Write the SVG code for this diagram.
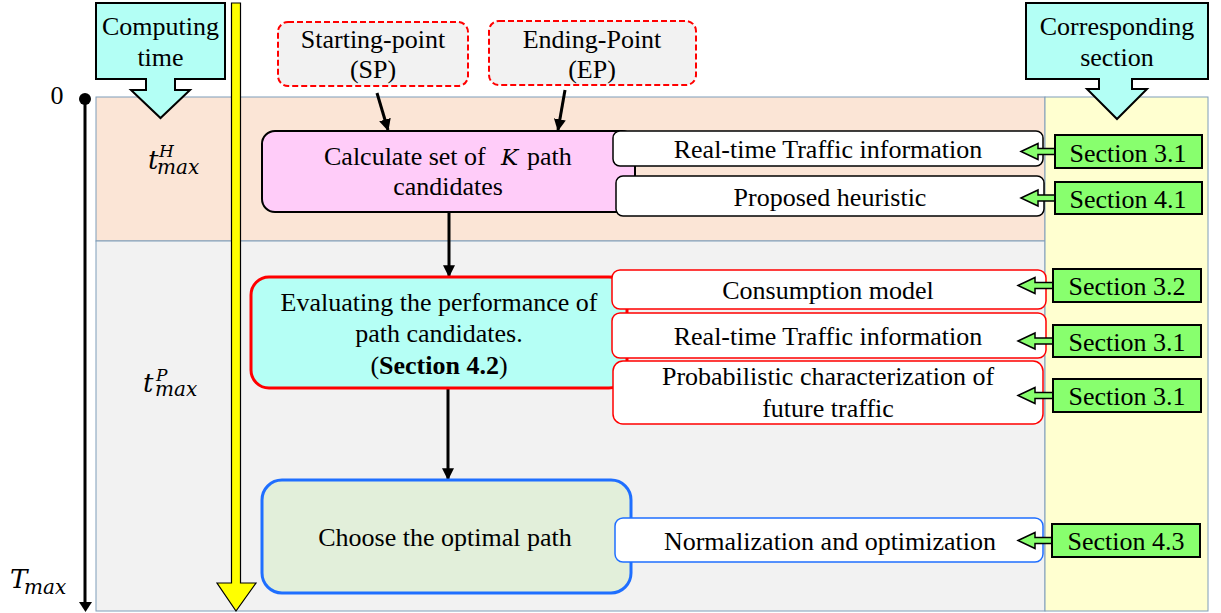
<svg xmlns="http://www.w3.org/2000/svg" width="1221" height="613" viewBox="0 0 1221 613">
<style>
.t{font-family:"Liberation Serif","Times New Roman",serif;font-size:26px;fill:#000;text-anchor:middle}
.m{font-family:"DejaVu Serif",serif;font-style:italic;fill:#000}
.band{stroke:#7F9DB9;stroke-width:1}
.call{fill:#B3FFF5;stroke:#000;stroke-width:2}
.sec{fill:#88FF6E;stroke:#000;stroke-width:2}
.garr{fill:#88FF6E;stroke:#000;stroke-width:1.5}
.wb{fill:#fff;stroke:#000;stroke-width:1.5}
.rb{fill:#fff;stroke:#FF0000;stroke-width:1.5}
.bb{fill:#fff;stroke:#1F6FFF;stroke-width:1.5}
.dash{fill:#F2F2F2;stroke:#FF0000;stroke-width:2;stroke-dasharray:6,3}
.conn{stroke:#000;stroke-width:3;fill:none;marker-end:url(#ah)}
</style>
<defs>
<marker id="ah" viewBox="0 0 10 10" refX="9" refY="5" markerWidth="4" markerHeight="4" markerUnits="strokeWidth" orient="auto">
<path d="M0,0 L10,5 L0,10 Z" fill="#000"/>
</marker>
<path id="garrow" d="M0,0 L17,-8 L17,-3 L36,-3 L36,3 L17,3 L17,8 Z"/>
</defs>

<g id="background">
<rect x="96" y="97" width="949" height="144" fill="#FBE5D6" class="band"/>
<rect x="96" y="241" width="949" height="370" fill="#F2F2F2" class="band"/>
<rect x="1045" y="97" width="163" height="514" fill="#FFFFD0" class="band"/>
</g>

<g id="timeline">
<text class="t" x="57" y="104" font-size="24">0</text>
<line x1="85" y1="99" x2="85" y2="603" stroke="#000" stroke-width="3"/>
<circle cx="85" cy="99" r="6" fill="#000"/>
<path d="M79,602 L92,602 L85.5,612 Z" fill="#000"/>
<text class="m" x="148" y="169" font-size="26">t<tspan font-size="17" x="159" dy="-12">H</tspan><tspan font-size="20" x="157" dy="17">max</tspan></text>
<text class="m" x="143" y="392" font-size="26">t<tspan font-size="17" x="156" dy="-11">P</tspan><tspan font-size="20" x="155" dy="15">max</tspan></text>
<text class="m" x="10" y="588" font-size="26">T<tspan font-size="20" x="24" dy="6">max</tspan></text>
</g>

<g id="yellow-arrow">
<path d="M231.5,3 H240.5 V583 H256 L236,611 L217,583 H231.5 Z" fill="#FFFF00" stroke="#000" stroke-width="1.2"/>
</g>

<g id="computing-time">
<path class="call" d="M96,3 H225 V79 H175 V90 H190 L160.5,118 L131,90 H146 V79 H96 Z"/>
<text class="t" x="160.5" y="35">Computing</text>
<text class="t" x="160.5" y="66">time</text>
</g>

<g id="corresponding-section">
<path class="call" d="M1026,3 H1208 V79 H1132 V89 H1147 L1117,119 L1087,89 H1099 V79 H1026 Z"/>
<text class="t" x="1117" y="35">Corresponding</text>
<text class="t" x="1117" y="66">section</text>
</g>

<g id="sp">
<rect class="dash" x="278" y="22" width="190" height="64" rx="10"/>
<text class="t" x="373" y="48">Starting-point</text>
<text class="t" x="373" y="78">(SP)</text>
</g>

<g id="ep">
<rect class="dash" x="489" y="21" width="207" height="64" rx="10"/>
<text class="t" x="592" y="48">Ending-Point</text>
<text class="t" x="592" y="78">(EP)</text>
</g>

<g id="connectors">
<line class="conn" x1="377" y1="93" x2="388" y2="130"/>
<line class="conn" x1="565" y1="90" x2="558" y2="130"/>
<line class="conn" x1="449" y1="212" x2="449" y2="276"/>
<line class="conn" x1="448" y1="388" x2="448" y2="479"/>
</g>

<g id="calc-k">
<rect x="262" y="131" width="373" height="81" rx="13" fill="#FFCCF9" stroke="#000" stroke-width="2"/>
<text class="t" style="text-anchor:start" y="165"><tspan x="324">Calculate set of</tspan><tspan x="501" style="font-family:'DejaVu Serif',serif;font-style:italic" font-size="23">K</tspan><tspan x="527">path</tspan></text>
<text class="t" x="448" y="195">candidates</text>
</g>

<g id="rt-traffic-1">
<rect class="wb" x="613" y="131" width="430" height="35" rx="7"/>
<text class="t" x="828" y="158">Real-time Traffic information</text>
</g>
<g id="heuristic">
<rect class="wb" x="616" y="176" width="428" height="40" rx="7"/>
<text class="t" x="830" y="206">Proposed heuristic</text>
</g>

<g id="evaluating">
<rect x="251" y="277" width="376" height="111" rx="18" fill="#B5FFF5" stroke="#FF0000" stroke-width="3"/>
<text class="t" x="439" y="311">Evaluating the performance of</text>
<text class="t" x="439" y="342">path candidates.</text>
<text class="t" x="439" y="374">(<tspan font-weight="bold">Section 4.2</tspan>)</text>
</g>

<g id="consumption">
<rect class="rb" x="612" y="270" width="434" height="39" rx="8"/>
<text class="t" x="828" y="299">Consumption model</text>
</g>
<g id="rt-traffic-2">
<rect class="rb" x="612" y="313" width="434" height="45" rx="8"/>
<text class="t" x="828" y="345">Real-time Traffic information</text>
</g>
<g id="probabilistic">
<rect class="rb" x="613" y="361" width="430" height="63" rx="10"/>
<text class="t" x="828" y="385">Probabilistic characterization of</text>
<text class="t" x="828" y="417">future traffic</text>
</g>

<g id="choose">
<rect x="262" y="480" width="369" height="113" rx="20" fill="#E2EFDA" stroke="#1F6FFF" stroke-width="3"/>
<text class="t" x="445" y="546">Choose the optimal path</text>
</g>
<g id="normalization">
<rect class="bb" x="615" y="518" width="428" height="44" rx="8"/>
<text class="t" x="830" y="550">Normalization and optimization</text>
</g>

<g id="sec-arrows">
<use href="#garrow" class="garr" x="1021" y="151.5"/>
<use href="#garrow" class="garr" x="1021" y="198"/>
<use href="#garrow" class="garr" x="1018" y="285.5"/>
<use href="#garrow" class="garr" x="1018" y="341"/>
<use href="#garrow" class="garr" x="1018" y="395.5"/>
<use href="#garrow" class="garr" x="1018" y="540.5"/>
</g>

<g id="sec-31a"><rect class="sec" x="1055" y="135" width="147" height="33"/><text class="t" x="1128" y="162">Section 3.1</text></g>
<g id="sec-41"><rect class="sec" x="1055" y="182" width="147" height="32"/><text class="t" x="1128" y="208">Section 4.1</text></g>
<g id="sec-32"><rect class="sec" x="1053" y="269" width="148" height="33"/><text class="t" x="1127" y="295">Section 3.2</text></g>
<g id="sec-31b"><rect class="sec" x="1053" y="325" width="148" height="32"/><text class="t" x="1127" y="351">Section 3.1</text></g>
<g id="sec-31c"><rect class="sec" x="1053" y="379" width="148" height="33"/><text class="t" x="1127" y="405">Section 3.1</text></g>
<g id="sec-43"><rect class="sec" x="1052" y="524" width="148" height="33"/><text class="t" x="1126" y="550">Section 4.3</text></g>
</svg>
